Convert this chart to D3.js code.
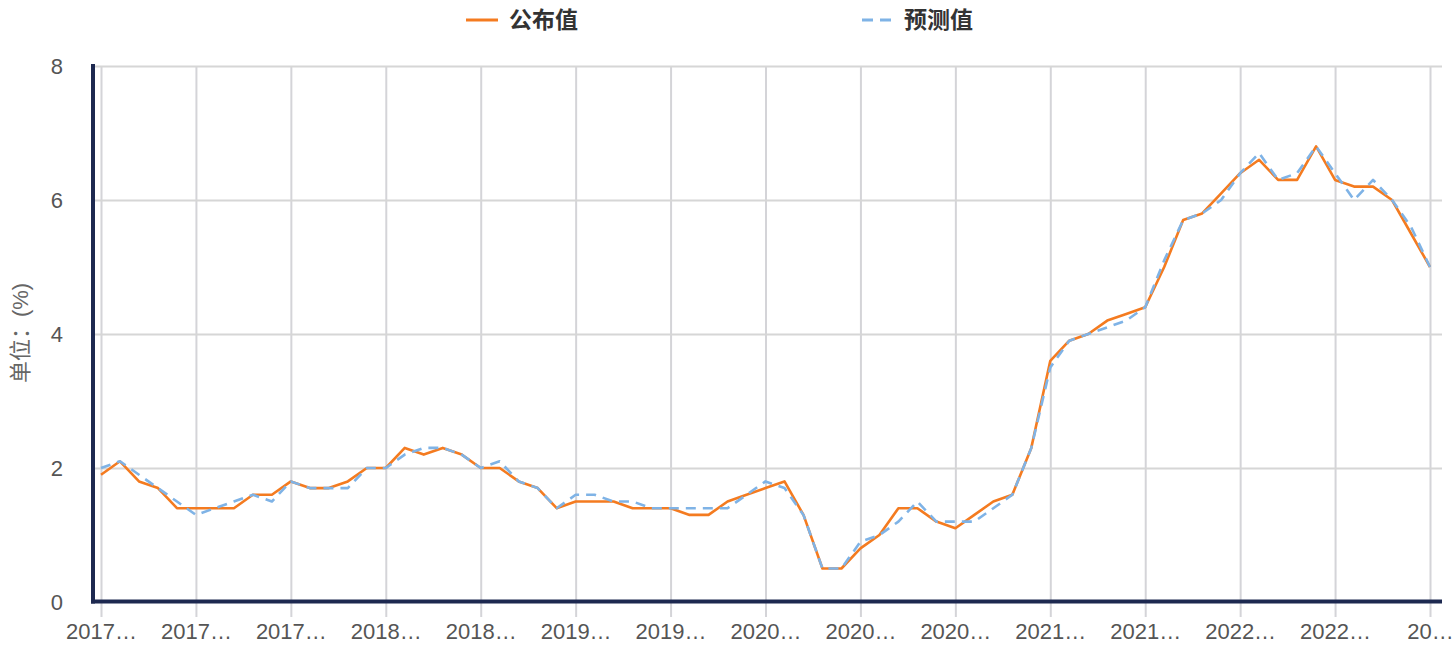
<!DOCTYPE html>
<html>
<head>
<meta charset="utf-8">
<script src="https://cdn.jsdelivr.net/npm/d3@7/dist/d3.min.js"></script>
<style>
  html, body { margin: 0; padding: 0; background: #fff; }
  svg { display: block; }
  text { font-family: "Liberation Sans", "Noto Sans CJK SC", sans-serif; }
</style>
</head>
<body>
<svg id="chart" width="1456" height="658"></svg>
<script>
// Monthly categories (Feb 2017 – Dec 2022)
const categories = [];
for (let y = 2017; y <= 2022; y++) {
  for (let m = 1; m <= 12; m++) {
    if (y === 2017 && m === 1) continue;
    categories.push(y + "-" + String(m).padStart(2, "0"));
  }
}
const published = [1.9, 2.1, 1.8, 1.7, 1.4, 1.4, 1.4, 1.4, 1.6, 1.6,
                   1.8, 1.7, 1.7, 1.8, 2.0, 2.0, 2.3, 2.2, 2.3, 2.2,
                   2.0, 2.0, 1.8, 1.7, 1.4, 1.5, 1.5, 1.5, 1.4, 1.4,
                   1.4, 1.3, 1.3, 1.5, 1.6, 1.7, 1.8, 1.3, 0.5, 0.5,
                   0.8, 1.0, 1.4, 1.4, 1.2, 1.1, 1.3, 1.5, 1.6, 2.3,
                   3.6, 3.9, 4.0, 4.2, 4.3, 4.4, 5.0, 5.7, 5.8, 6.1,
                   6.4, 6.6, 6.3, 6.3, 6.8, 6.3, 6.2, 6.2, 6.0, 5.5, 5.0];
const forecast = [2.0, 2.1, 1.9, 1.7, 1.5, 1.3, 1.4, 1.5, 1.6, 1.5,
                  1.8, 1.7, 1.7, 1.7, 2.0, 2.0, 2.2, 2.3, 2.3, 2.2,
                  2.0, 2.1, 1.8, 1.7, 1.4, 1.6, 1.6, 1.5, 1.5, 1.4,
                  1.4, 1.4, 1.4, 1.4, 1.6, 1.8, 1.7, 1.3, 0.5, 0.5,
                  0.9, 1.0, 1.2, 1.5, 1.2, 1.2, 1.2, 1.4, 1.6, 2.3,
                  3.5, 3.9, 4.0, 4.1, 4.2, 4.4, 5.1, 5.7, 5.8, 6.0,
                  6.4, 6.7, 6.3, 6.4, 6.8, 6.4, 6.0, 6.3, 6.0, 5.6, 5.0];
const seriesNames = ["公布值", "预测值"];
const xTickLabels = ["2017…", "2017…", "2017…", "2018…", "2018…", "2019…", "2019…", "2020…",
                     "2020…", "2020…", "2021…", "2021…", "2022…", "2022…", "20…"];
const yTicks = [0, 2, 4, 6, 8];
const yTitle = "单位：(%)";

const svg = d3.select("#chart");
const x = d3.scalePoint().domain(categories).range([101, 1430]);
const y = d3.scaleLinear().domain([0, 8]).range([602, 66]);
const tickCats = categories.filter((d, i) => i % 5 === 0);

// vertical grid lines (with ticks below axis)
svg.append("g")
  .attr("transform", "translate(0,617)")
  .call(d3.axisBottom(x).tickValues(tickCats).tickSize(-(617 - 66)).tickFormat(""))
  .call(g => g.select(".domain").remove())
  .call(g => g.selectAll("line").attr("stroke", "#d4d4d8").attr("stroke-width", 2));

// horizontal grid lines
svg.append("g")
  .attr("transform", "translate(93,0)")
  .call(d3.axisRight(y).tickValues(yTicks.filter(v => v > 0)).tickSize(1442 - 93).tickFormat(""))
  .call(g => g.select(".domain").remove())
  .call(g => g.selectAll("line").attr("stroke", "#d6d6d6").attr("stroke-width", 2));

// y tick labels
svg.append("g")
  .attr("transform", "translate(63,0)")
  .call(d3.axisLeft(y).tickValues(yTicks).tickSize(0).tickPadding(0).tickFormat(d3.format("d")))
  .call(g => g.select(".domain").remove())
  .call(g => g.selectAll("text").attr("font-size", 22).attr("fill", "#555")
                 .attr("font-family", "Liberation Sans, sans-serif"));

// x tick labels
svg.append("g")
  .attr("transform", "translate(0,623)")
  .call(d3.axisBottom(x).tickValues(tickCats).tickSize(0).tickPadding(0)
        .tickFormat((d, i) => xTickLabels[i]))
  .call(g => g.select(".domain").remove())
  .call(g => g.selectAll("text").attr("font-size", 22).attr("fill", "#555")
                 .attr("font-family", "Liberation Sans, sans-serif"));

// axis lines
svg.append("line").attr("x1", 93).attr("x2", 93).attr("y1", 64).attr("y2", 603.5)
  .attr("stroke", "#1d2950").attr("stroke-width", 4);
svg.append("line").attr("x1", 91).attr("x2", 1442).attr("y1", 601.5).attr("y2", 601.5)
  .attr("stroke", "#1d2950").attr("stroke-width", 4);

// y axis title
svg.append("text")
  .attr("transform", "translate(28,333) rotate(-90)")
  .attr("text-anchor", "middle")
  .attr("font-size", 22).attr("fill", "#666")
  .attr("font-family", "Noto Sans CJK SC, sans-serif")
  .text(yTitle);

// lines
const line = d3.line().x((d, i) => x(categories[i])).y(d => y(d));
svg.append("path").datum(published).attr("d", line)
  .attr("fill", "none").attr("stroke", "#f47b20").attr("stroke-width", 2.6)
  .attr("stroke-linejoin", "round");
svg.append("path").datum(forecast).attr("d", line)
  .attr("fill", "none").attr("stroke", "#7fb3e6").attr("stroke-width", 2.6)
  .attr("stroke-dasharray", "10,7").attr("stroke-linejoin", "round");

// legend
const legend = svg.append("g");
legend.append("line").attr("x1", 466).attr("x2", 498).attr("y1", 20).attr("y2", 20)
  .attr("stroke", "#f47b20").attr("stroke-width", 3);
legend.append("text").attr("x", 509).attr("y", 28)
  .attr("font-size", 23).attr("font-weight", "bold").attr("fill", "#333")
  .attr("font-family", "Noto Sans CJK SC, sans-serif").text(seriesNames[0]);
legend.append("line").attr("x1", 862).attr("x2", 896).attr("y1", 20).attr("y2", 20)
  .attr("stroke", "#7fb3e6").attr("stroke-width", 3).attr("stroke-dasharray", "11,7");
legend.append("text").attr("x", 904).attr("y", 28)
  .attr("font-size", 23).attr("font-weight", "bold").attr("fill", "#333")
  .attr("font-family", "Noto Sans CJK SC, sans-serif").text(seriesNames[1]);
</script>
</body>
</html>
